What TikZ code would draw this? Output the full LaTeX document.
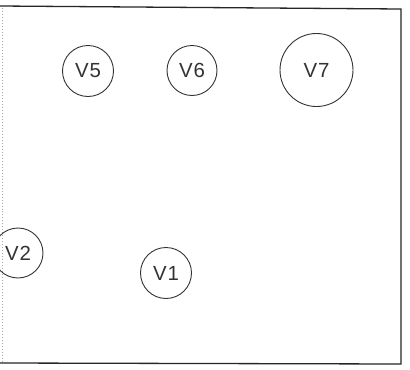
\documentclass[tikz,border=0pt]{standalone}
\usepackage{fontspec}
\setmainfont{Liberation Sans}[LetterSpace=4]
\begin{document}
\begin{tikzpicture}[x=1bp,y=-1bp,
  vert/.style={circle,draw=black!80,line width=0.9bp,inner sep=0pt,
    font=\fontsize{20.5}{20.5}\selectfont,text=black!80},
  frameline/.style={draw=black!85,line width=1.3bp}]
\useasboundingbox (0,0) rectangle (410,370);
\clip (0,0) rectangle (410,370);
\fill[white] (0,0) rectangle (410,370);
% frame
\coordinate (tl) at (0,6);
\coordinate (tr) at (401,9);
\coordinate (br) at (401,364);
\coordinate (bl) at (0,363);
\draw[frameline] (tl) -- (tr) -- (br) -- (bl);
\draw[black!35,dotted,line width=1bp] (2,8) -- (2,363);
% vertices
\node[vert,minimum size=51bp] (v5) at (88,71) {V5};
\node[vert,minimum size=50bp] (v6) at (192,70.5) {V6};
\node[vert,minimum size=73bp] (v7) at (316.5,70) {V7};
\node[vert,minimum size=50bp] (v2) at (18,253) {V2};
\node[vert,minimum size=51bp] (v1) at (166,273) {V1};
\end{tikzpicture}
\end{document}
